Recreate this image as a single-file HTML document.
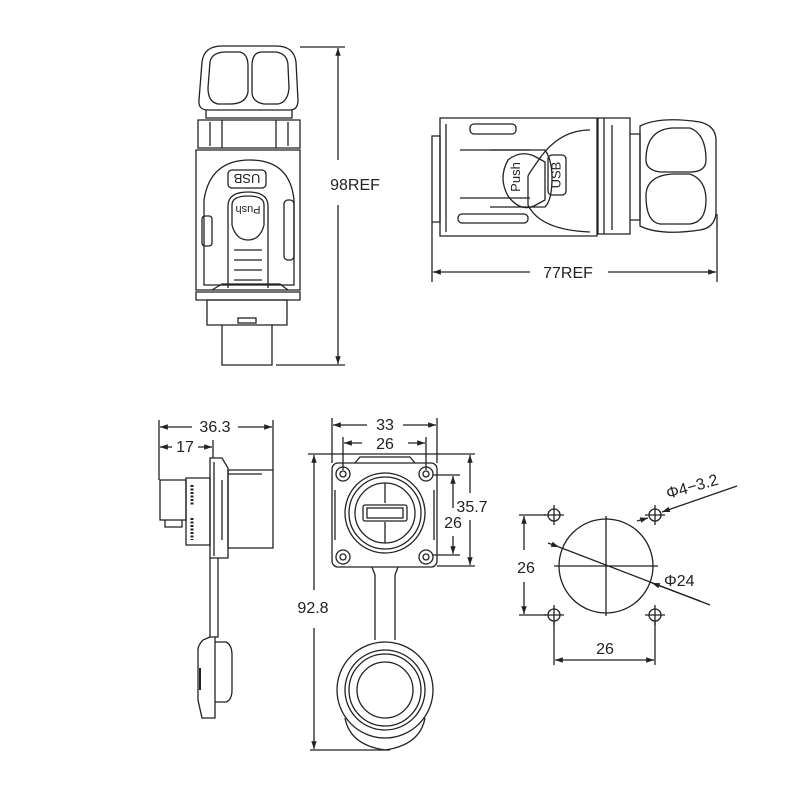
<!DOCTYPE html>
<html><head><meta charset="utf-8"><style>
html,body{margin:0;padding:0;background:#fff}
svg{display:block}
text{font-family:"Liberation Sans",sans-serif;fill:#222}
</style></head><body>
<svg width="807" height="808" viewBox="0 0 807 808" xmlns="http://www.w3.org/2000/svg">
<defs>
<marker id="a" viewBox="0 0 10 10" refX="10" refY="5" markerWidth="9" markerHeight="6" orient="auto-start-reverse"><path d="M0,1.5 L10,5 L0,8.5 z" fill="#222"/></marker>
</defs>
<g fill="none" stroke="#222" stroke-width="1.3">
<path d="M202,62 Q204,46 222,46 L276,46 Q294,46 296,62 L298,100 Q298,110 290,110 L208,110 Q198,110 199,100 Z"/>
<path d="M210,62 Q212,52 226,52 L240,52 Q248,54 248,66 L248,92 Q246,104 230,104 L218,104 Q208,102 208,88 Z"/>
<path d="M252,66 Q252,52 262,52 L276,52 Q288,54 288,66 L289,88 Q288,102 278,104 L264,104 Q252,102 252,92 Z"/>
<path d="M206,110 L206,118 L292,118 L292,110"/>
<path d="M198,120 L300,120 L300,148 L198,148 Z"/>
<path d="M222,120 L222,148 M276,120 L276,148 M210,122 L210,146 M288,122 L288,146"/>
<path d="M196,150 L300,150 L300,290 L196,290 Z"/>
<path d="M204,200 Q210,160 250,160 Q290,160 294,200 L294,285 L204,285 Z"/>
<rect x="228" y="170" width="38" height="18" rx="4"/>
<text x="247" y="184" font-size="13" text-anchor="middle" stroke="none" transform="rotate(180 247 179)">USB</text>
<path d="M228,288 L228,206 Q228,192 248,192 Q268,192 268,206 L268,288"/>
<path d="M232,205 Q232,196 248,196 Q264,196 264,205 L264,225 Q260,240 248,240 Q236,240 232,225 Z"/>
<text x="248" y="214" font-size="11" text-anchor="middle" stroke="none" transform="rotate(180 248 210)">Push</text>
<path d="M234,250 L262,250 M234,260 L262,260 M234,270 L262,270 M234,280 L262,280"/>
<rect x="202" y="216" width="10" height="30" rx="3"/>
<rect x="284" y="200" width="10" height="60" rx="4"/>
<path d="M196,292 L300,292 L300,300 L196,300 Z"/>
<path d="M212,290 L222,284 L280,284 L288,290"/>
<path d="M207,300 L287,300 L287,325 L207,325 Z"/>
<rect x="238" y="318" width="18" height="5"/>
<path d="M222,325 L222,365 L272,365 L272,325"/>
<path d="M300,47 L345,47 M276,365 L345,365"/>
<line x1="338" y1="160" x2="338" y2="48" marker-end="url(#a)"/>
<line x1="338" y1="205" x2="338" y2="364" marker-end="url(#a)"/>

<path d="M440,118 L597,118 L597,236 L440,236 Z"/>
<path d="M432,136 L440,136 L440,222 L432,222 Z"/>
<path d="M446,124 L446,232 M460,150 L530,150 M460,198 L530,198"/>
<rect x="470" y="124" width="46" height="10" rx="4"/>
<path d="M590,130 Q560,130 540,158 Q530,172 528,176 L528,205 Q540,230 590,232"/>
<path d="M508,196 Q498,178 508,160 Q520,150 534,156 L545,162 L545,200 L534,206 Q520,212 508,196 Z"/>
<path d="M490,150 L545,150 Q552,160 552,178 Q552,200 545,207 L490,207"/>
<text x="520" y="177" font-size="13" stroke="none" text-anchor="middle" transform="rotate(-90 520 177)">Push</text>
<rect x="548" y="155" width="18" height="40" rx="4"/>
<text x="557" y="175" font-size="13" stroke="none" text-anchor="middle" dominant-baseline="middle" transform="rotate(-90 557 175)">USB</text>
<rect x="458" y="214" width="70" height="9" rx="4"/>
<path d="M598,118 L630,118 L630,234 L598,234 Z M604,118 L604,234 M612,125 L612,230"/>
<path d="M630,134 L640,134 L640,220 L630,220"/>
<path d="M640,126 Q660,116 700,122 Q716,126 716,140 L716,214 Q714,228 700,230 Q660,236 640,226 Z"/>
<path d="M646,160 Q646,130 672,128 L690,128 Q706,134 706,160 Q706,172 690,172 L660,172 Q646,170 646,160 Z"/>
<path d="M646,196 Q646,176 672,174 L690,174 Q706,180 706,200 Q706,222 690,224 L660,224 Q646,222 646,196 Z"/>
<path d="M432,222 L432,282 M717,214 L717,282"/>
<line x1="530" y1="272" x2="433" y2="272" marker-end="url(#a)"/>
<line x1="608" y1="272" x2="716" y2="272" marker-end="url(#a)"/>

<path d="M210,458 L222,458 L228,468 L228,558 L210,558 Z"/>
<path d="M214,462 L214,556 M222,480 L222,540"/>
<path d="M228,470 L273,470 L273,548 L228,548 Z"/>
<path d="M228,474 L262,474"/>
<path d="M186,478 L210,478 L210,545 L186,545 Z"/>
<path d="M160,480 L186,480 L186,520 L160,520 Z M165,520 L165,527 L182,527 L182,520"/>
<path d="M192,485 L192,505 M192,518 L192,540" stroke-width="3" stroke-dasharray="2 1.5"/>
<path d="M210,558 L210,637 L218,637 L218,558"/>
<path d="M210,637 L203,640 Q198,645 198,650 L198,700 L202,718 L215,718 L215,637"/>
<path d="M215,642 L226,642 Q232,645 232,655 L232,690 Q232,700 226,702 L215,702"/>
<path d="M200,668 L200,690" stroke-width="2"/>
<path d="M159,420 L159,480 M273,420 L273,470 M213,440 L213,458"/>
<line x1="192" y1="427" x2="160" y2="427" marker-end="url(#a)"/>
<line x1="238" y1="427" x2="272" y2="427" marker-end="url(#a)"/>
<line x1="172" y1="447" x2="160" y2="447" marker-end="url(#a)"/>
<line x1="198" y1="447" x2="212" y2="447" marker-end="url(#a)"/>

<rect x="332" y="463" width="105" height="104" rx="6"/>
<path d="M355,463 L360,457 L410,457 L415,463"/>
<circle cx="343" cy="474" r="7"/><circle cx="343" cy="474" r="3"/>
<circle cx="426" cy="474" r="7"/><circle cx="426" cy="474" r="3"/>
<circle cx="343" cy="557" r="7"/><circle cx="343" cy="557" r="3"/>
<circle cx="426" cy="557" r="7"/><circle cx="426" cy="557" r="3"/>
<circle cx="385" cy="513" r="40"/><circle cx="385" cy="513" r="36"/>
<circle cx="385" cy="513" r="30"/>
<path d="M385,483 L385,503 M385,522 L385,543"/>
<rect x="363" y="505" width="44" height="16" rx="2"/>
<rect x="367" y="508" width="36" height="10"/>
<path d="M335,490 L335,540 M434,490 L434,540"/>
<path d="M372,567 L375,575 L375,640 M398,567 L395,575 L395,640"/>
<circle cx="385" cy="690" r="48"/>
<circle cx="385" cy="690" r="40"/><circle cx="385" cy="690" r="36"/>
<circle cx="385" cy="690" r="28"/>
<path d="M345,718 Q350,745 385,750 Q420,745 425,718"/>
<path d="M332,418 L332,463 M437,418 L437,463 M343,437 L343,470 M426,437 L426,470"/>
<line x1="367" y1="425" x2="333" y2="425" marker-end="url(#a)"/>
<line x1="403" y1="425" x2="436" y2="425" marker-end="url(#a)"/>
<line x1="362" y1="443" x2="344" y2="443" marker-end="url(#a)"/>
<line x1="408" y1="443" x2="425" y2="443" marker-end="url(#a)"/>
<path d="M308,454 L475,454 M437,566 L475,566 M433,475 L460,475 M433,555 L460,555 M310,750 L390,750"/>
<line x1="314" y1="590" x2="314" y2="455" marker-end="url(#a)"/>
<line x1="314" y1="628" x2="314" y2="749" marker-end="url(#a)"/>
<line x1="470" y1="493" x2="470" y2="455" marker-end="url(#a)"/>
<line x1="470" y1="520" x2="470" y2="565" marker-end="url(#a)"/>
<line x1="453" y1="508" x2="453" y2="476" marker-end="url(#a)"/>
<line x1="453" y1="536" x2="453" y2="554" marker-end="url(#a)"/>

<circle cx="606" cy="566" r="47"/>
<path d="M554,566 L658,566 M606,516 L606,616"/>
<line x1="548" y1="543" x2="559" y2="547" marker-end="url(#a)"/>
<path d="M559,547 L710,605"/>
<line x1="700" y1="601" x2="652" y2="583" marker-end="url(#a)"/>
<circle cx="554" cy="515" r="6"/><path d="M554,505 L554,525 M544,515 L564,515"/>
<circle cx="655" cy="515" r="6"/><path d="M655,505 L655,525 M645,515 L665,515"/>
<circle cx="554" cy="615" r="6"/><path d="M554,605 L554,625 M544,615 L564,615"/>
<circle cx="655" cy="615" r="6"/><path d="M655,605 L655,625 M645,615 L665,615"/>
<line x1="637" y1="521" x2="648" y2="518" marker-end="url(#a)"/>
<line x1="737" y1="486" x2="662" y2="512" marker-end="url(#a)"/>
<path d="M519,515 L546,515 M519,615 L546,615 M554,622 L554,665 M655,622 L655,665"/>
<line x1="524" y1="550" x2="524" y2="516" marker-end="url(#a)"/>
<line x1="524" y1="582" x2="524" y2="614" marker-end="url(#a)"/>
<line x1="604" y1="660" x2="555" y2="660" marker-end="url(#a)"/>
<line x1="604" y1="660" x2="654" y2="660" marker-end="url(#a)"/>
</g>
<g stroke="none" font-size="16">
<text x="355" y="190" text-anchor="middle">98REF</text>
<text x="568" y="278" text-anchor="middle">77REF</text>
<text x="215" y="432" text-anchor="middle">36.3</text>
<text x="185" y="452" text-anchor="middle">17</text>
<text x="385" y="430" text-anchor="middle">33</text>
<text x="385" y="449" text-anchor="middle">26</text>
<text x="472" y="512" text-anchor="middle">35.7</text>
<text x="453" y="528" text-anchor="middle">26</text>
<text x="313" y="613" text-anchor="middle">92.8</text>
<text x="526" y="573" text-anchor="middle">26</text>
<text x="605" y="654" text-anchor="middle">26</text>
<text x="668" y="499" transform="rotate(-16 668 499)">Φ4−3.2</text>
<text x="664" y="586">Φ24</text>
</g>
</svg>
</body></html>
